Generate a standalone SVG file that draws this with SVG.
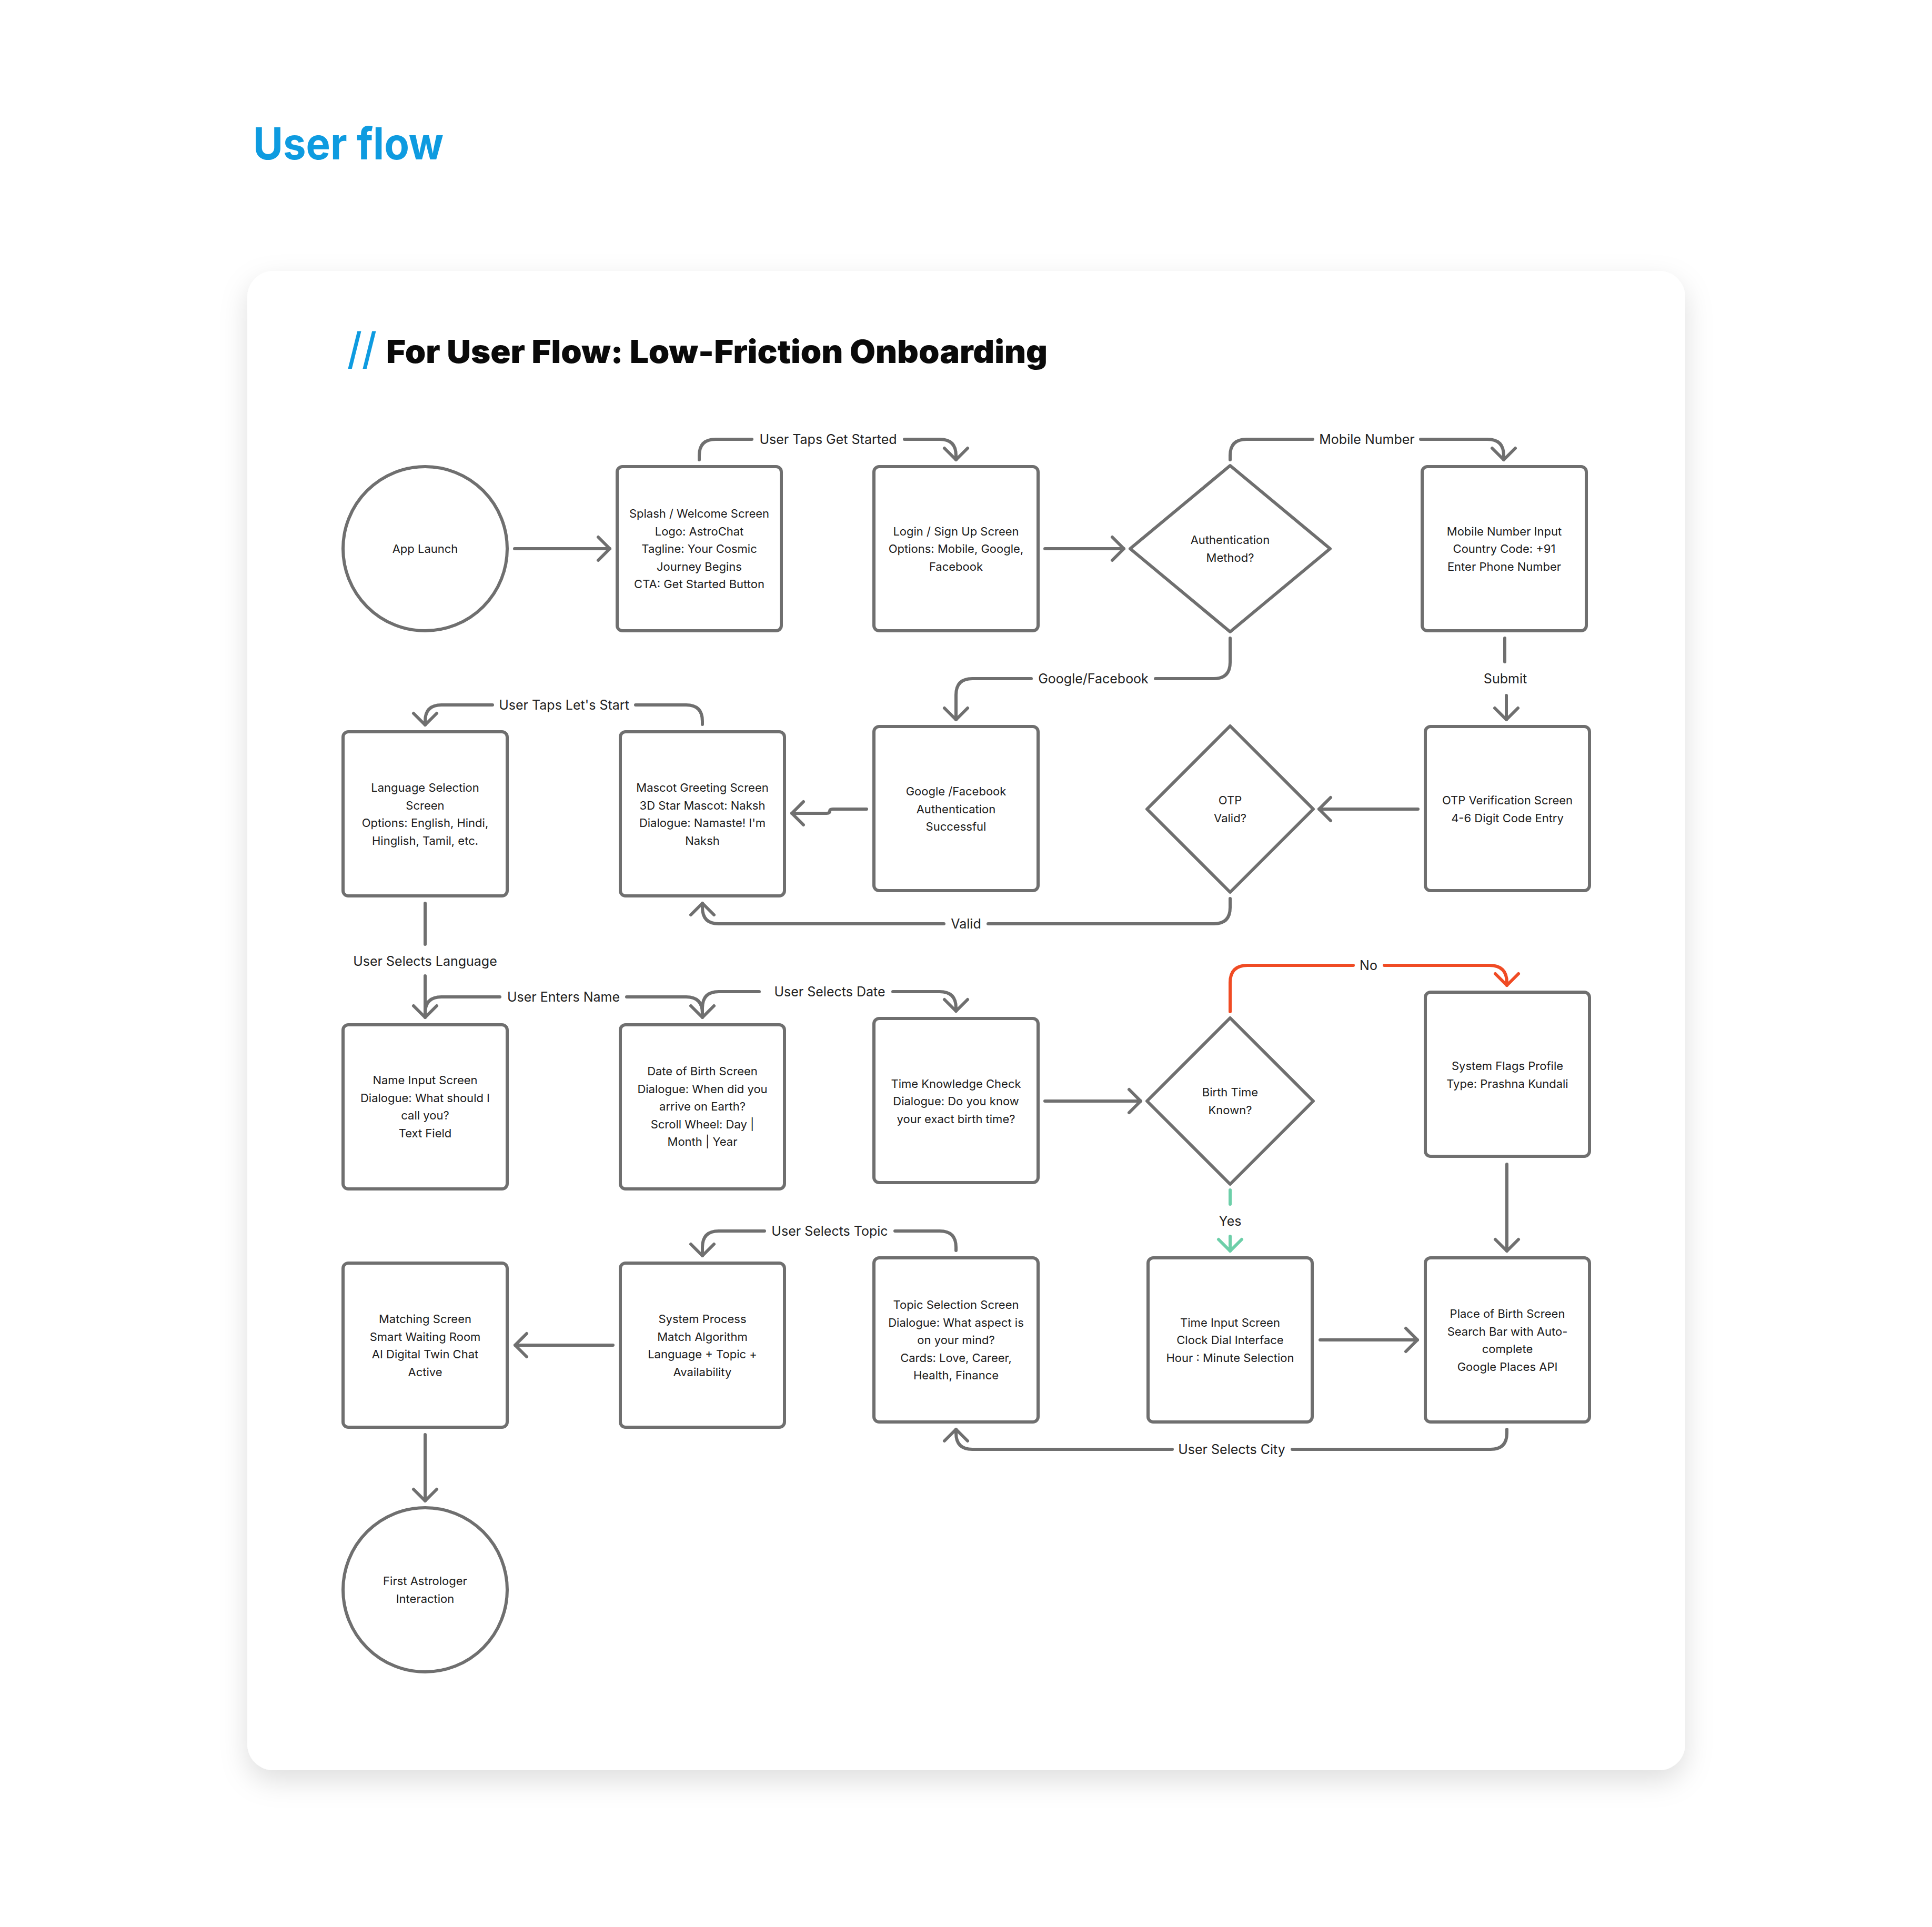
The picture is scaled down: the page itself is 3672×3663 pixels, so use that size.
<svg xmlns="http://www.w3.org/2000/svg" width="3672" height="3663" viewBox="0 0 3672 3663">
<defs>
<filter id="sh" x="-10%" y="-10%" width="120%" height="120%">
<feDropShadow dx="0" dy="20" stdDeviation="26" flood-color="#000" flood-opacity="0.13"/>
</filter>
<marker id="ag" markerUnits="userSpaceOnUse" markerWidth="60" markerHeight="60" viewBox="-30 -30 60 60" refX="0" refY="0" orient="auto" overflow="visible">
<path d="M-22,-22 L0,0 L-22,22" fill="none" stroke="#6f6f6f" stroke-width="6" stroke-linecap="round" stroke-linejoin="round"/>
</marker>
<marker id="ar" markerUnits="userSpaceOnUse" markerWidth="60" markerHeight="60" viewBox="-30 -30 60 60" refX="0" refY="0" orient="auto" overflow="visible">
<path d="M-22,-22 L0,0 L-22,22" fill="none" stroke="#f04b24" stroke-width="6" stroke-linecap="round" stroke-linejoin="round"/>
</marker>
<marker id="an" markerUnits="userSpaceOnUse" markerWidth="60" markerHeight="60" viewBox="-30 -30 60 60" refX="0" refY="0" orient="auto" overflow="visible">
<path d="M-22,-22 L0,0 L-22,22" fill="none" stroke="#6dcfa9" stroke-width="6" stroke-linecap="round" stroke-linejoin="round"/>
</marker>
</defs>
<style>
.box{fill:#fff;stroke:#6f6f6f;stroke-width:6;stroke-linejoin:round}
.nt{font-family:Inter,"Noto Sans","Liberation Sans",sans-serif;font-size:22px;fill:#1c1c1c;text-anchor:middle}
.c{fill:none;stroke:#6f6f6f;stroke-width:6;stroke-linecap:round;stroke-linejoin:round}
.ca{marker-end:url(#ag)}
.red{stroke:#f04b24}
.grn{stroke:#6dcfa9}
.lb{font-family:Inter,"Noto Sans","Liberation Sans",sans-serif;font-size:25px;fill:#222;text-anchor:middle}
</style>
<rect width="3672" height="3663" fill="#fff"/>
<text x="481" y="303" font-family="Inter,'Noto Sans','Liberation Sans',sans-serif" font-size="84" font-weight="700" fill="#0e9be0" textLength="362" lengthAdjust="spacingAndGlyphs">User flow</text>
<rect x="470" y="515" width="2733" height="2850" rx="50" fill="#fff" filter="url(#sh)"/>
<text x="660" y="692" font-family="Inter,'Noto Sans','Liberation Sans',sans-serif" font-size="82" font-weight="500" fill="#0e9be0" textLength="56" lengthAdjust="spacingAndGlyphs">//</text>
<text x="734" y="690" font-family="Inter,'Noto Sans','Liberation Sans',sans-serif" font-size="61" font-weight="900" fill="#0a0a0a" textLength="1257" lengthAdjust="spacingAndGlyphs">For User Flow: Low-Friction Onboarding</text>

<g id="connectors">
<path class="c ca" d="M978,1043 H1159"/>
<path class="c" d="M1329,874 V866 Q1329,835 1360,835 H1429"/>
<path class="c ca" d="M1719,835 H1786 Q1817,835 1817,866 V874"/>
<text class="lb" x="1574" y="844">User Taps Get Started</text>
<path class="c ca" d="M1986,1043 H2136"/>
<path class="c" d="M2338,874 V866 Q2338,835 2369,835 H2495"/>
<path class="c ca" d="M2700,835 H2827 Q2858,835 2858,866 V874"/>
<text class="lb" x="2598" y="844">Mobile Number</text>
<path class="c" d="M2338,1213 V1259 Q2338,1290 2307,1290 H2196"/>
<path class="c ca" d="M1960,1290 H1848 Q1817,1290 1817,1321 V1368"/>
<text class="lb" x="2078" y="1299">Google/Facebook</text>
<path class="c" d="M2860,1213 V1258"/>
<path class="c ca" d="M2863,1322 V1368"/>
<text class="lb" x="2861" y="1299">Submit</text>
<path class="c ca" d="M2695,1538 H2507"/>
<path class="c ca" d="M1647,1538 H1583 Q1577,1538 1577,1542 Q1577,1546 1571,1546 H1505"/>
<path class="c" d="M2338,1708 V1725 Q2338,1756 2307,1756 H1878"/>
<path class="c ca" d="M1794,1756 H1366 Q1335,1756 1335,1725 V1717"/>
<text class="lb" x="1836" y="1765">Valid</text>
<path class="c" d="M1335,1377 V1371 Q1335,1340 1304,1340 H1208"/>
<path class="c ca" d="M936,1340 H839 Q808,1340 808,1371 V1378"/>
<text class="lb" x="1072" y="1349">User Taps Let's Start</text>
<path class="c" d="M808,1717 V1795"/>
<path class="c ca" d="M808,1855 V1934"/>
<text class="lb" x="808" y="1836">User Selects Language</text>
<path class="c" d="M808,1930 V1926 Q808,1895 839,1895 H950"/>
<path class="c ca" d="M1191,1895 H1304 Q1335,1895 1335,1926 V1934"/>
<text class="lb" x="1071" y="1904">User Enters Name</text>
<path class="c" d="M1335,1930 V1916 Q1335,1885 1366,1885 H1443"/>
<path class="c ca" d="M1697,1885 H1786 Q1817,1885 1817,1916 V1922"/>
<text class="lb" x="1577" y="1894">User Selects Date</text>
<path class="c ca" d="M1986,2093 H2168"/>
<path class="c red" d="M2338,1923 V1868 Q2338,1835 2371,1835 H2572"/>
<path class="c red" marker-end="url(#ar)" d="M2631,1835 H2831 Q2864,1835 2864,1868 V1873"/>
<text class="lb" x="2601" y="1844">No</text>
<path class="c grn" d="M2338,2262 V2289"/>
<path class="c grn" marker-end="url(#an)" d="M2338,2350 V2378"/>
<text class="lb" x="2338" y="2330">Yes</text>
<path class="c ca" d="M2864,2213 V2378"/>
<path class="c ca" d="M2509,2547 H2694"/>
<path class="c" d="M2864,2717 V2724 Q2864,2755 2833,2755 H2456"/>
<path class="c ca" d="M2228,2755 H1848 Q1817,2755 1817,2724 V2717"/>
<text class="lb" x="2341" y="2764">User Selects City</text>
<path class="c" d="M1817,2377 V2371 Q1817,2340 1786,2340 H1701"/>
<path class="c ca" d="M1453,2340 H1366 Q1335,2340 1335,2371 V2387"/>
<text class="lb" x="1577" y="2349">User Selects Topic</text>
<path class="c ca" d="M1165,2557 H979"/>
<path class="c ca" d="M808,2727 V2853"/>
</g>

<g id="app-launch"><circle class="box" cx="808" cy="1043" r="156"/><text class="nt" x="808" y="1051">App Launch</text></g>
<g id="splash"><rect class="box" x="1173" y="887" width="312" height="312" rx="10"/>
<text class="nt" x="1329"><tspan x="1329" y="984">Splash / Welcome Screen</tspan><tspan x="1329" y="1017.5">Logo: AstroChat</tspan><tspan x="1329" y="1051">Tagline: Your Cosmic</tspan><tspan x="1329" y="1084.5">Journey Begins</tspan><tspan x="1329" y="1118">CTA: Get Started Button</tspan></text></g>
<g id="login"><rect class="box" x="1661" y="887" width="312" height="312" rx="10"/>
<text class="nt"><tspan x="1817" y="1017.5">Login / Sign Up Screen</tspan><tspan x="1817" y="1051">Options: Mobile, Google,</tspan><tspan x="1817" y="1084.5">Facebook</tspan></text></g>
<g id="auth-method"><path class="box" d="M2338,885 L2528,1043 L2338,1201 L2148,1043 Z"/>
<text class="nt"><tspan x="2338" y="1034">Authentication</tspan><tspan x="2338" y="1067.5">Method?</tspan></text></g>
<g id="mobile-input"><rect class="box" x="2703" y="887" width="312" height="312" rx="10"/>
<text class="nt"><tspan x="2859" y="1017.5">Mobile Number Input</tspan><tspan x="2859" y="1051">Country Code: +91</tspan><tspan x="2859" y="1084.5">Enter Phone Number</tspan></text></g>

<g id="language"><rect class="box" x="652" y="1391" width="312" height="312" rx="10"/>
<text class="nt"><tspan x="808" y="1505">Language Selection</tspan><tspan x="808" y="1538.5">Screen</tspan><tspan x="808" y="1572">Options: English, Hindi,</tspan><tspan x="808" y="1605.5">Hinglish, Tamil, etc.</tspan></text></g>
<g id="mascot"><rect class="box" x="1179" y="1391" width="312" height="312" rx="10"/>
<text class="nt"><tspan x="1335" y="1505">Mascot Greeting Screen</tspan><tspan x="1335" y="1538.5">3D Star Mascot: Naksh</tspan><tspan x="1335" y="1572">Dialogue: Namaste! I'm</tspan><tspan x="1335" y="1605.5">Naksh</tspan></text></g>
<g id="google-auth"><rect class="box" x="1661" y="1381" width="312" height="312" rx="10"/>
<text class="nt"><tspan x="1817" y="1512">Google /Facebook</tspan><tspan x="1817" y="1545.5">Authentication</tspan><tspan x="1817" y="1579">Successful</tspan></text></g>
<g id="otp-valid"><path class="box" d="M2338,1380 L2496,1538 L2338,1696 L2180,1538 Z"/>
<text class="nt"><tspan x="2338" y="1529">OTP</tspan><tspan x="2338" y="1562.5">Valid?</tspan></text></g>
<g id="otp-verification"><rect class="box" x="2709" y="1381" width="312" height="312" rx="10"/>
<text class="nt"><tspan x="2865" y="1529">OTP Verification Screen</tspan><tspan x="2865" y="1562.5">4-6 Digit Code Entry</tspan></text></g>

<g id="name-input"><rect class="box" x="652" y="1948" width="312" height="312" rx="10"/>
<text class="nt"><tspan x="808" y="2061">Name Input Screen</tspan><tspan x="808" y="2094.5">Dialogue: What should I</tspan><tspan x="808" y="2128">call you?</tspan><tspan x="808" y="2161.5">Text Field</tspan></text></g>
<g id="dob"><rect class="box" x="1179" y="1948" width="312" height="312" rx="10"/>
<text class="nt"><tspan x="1335" y="2044">Date of Birth Screen</tspan><tspan x="1335" y="2077.5">Dialogue: When did you</tspan><tspan x="1335" y="2111">arrive on Earth?</tspan><tspan x="1335" y="2144.5">Scroll Wheel: Day |</tspan><tspan x="1335" y="2178">Month | Year</tspan></text></g>
<g id="time-knowledge"><rect class="box" x="1661" y="1936" width="312" height="312" rx="10"/>
<text class="nt"><tspan x="1817" y="2067.5">Time Knowledge Check</tspan><tspan x="1817" y="2101">Dialogue: Do you know</tspan><tspan x="1817" y="2134.5">your exact birth time?</tspan></text></g>
<g id="birth-time"><path class="box" d="M2338,1935 L2496,2093 L2338,2251 L2180,2093 Z"/>
<text class="nt"><tspan x="2338" y="2084">Birth Time</tspan><tspan x="2338" y="2117.5">Known?</tspan></text></g>
<g id="system-flags"><rect class="box" x="2709" y="1886" width="312" height="312" rx="10"/>
<text class="nt"><tspan x="2865" y="2034">System Flags Profile</tspan><tspan x="2865" y="2067.5">Type: Prashna Kundali</tspan></text></g>

<g id="matching"><rect class="box" x="652" y="2401" width="312" height="312" rx="10"/>
<text class="nt"><tspan x="808" y="2515">Matching Screen</tspan><tspan x="808" y="2548.5">Smart Waiting Room</tspan><tspan x="808" y="2582">AI Digital Twin Chat</tspan><tspan x="808" y="2615.5">Active</tspan></text></g>
<g id="system-process"><rect class="box" x="1179" y="2401" width="312" height="312" rx="10"/>
<text class="nt"><tspan x="1335" y="2515">System Process</tspan><tspan x="1335" y="2548.5">Match Algorithm</tspan><tspan x="1335" y="2582">Language + Topic +</tspan><tspan x="1335" y="2615.5">Availability</tspan></text></g>
<g id="topic"><rect class="box" x="1661" y="2391" width="312" height="312" rx="10"/>
<text class="nt"><tspan x="1817" y="2488">Topic Selection Screen</tspan><tspan x="1817" y="2521.5">Dialogue: What aspect is</tspan><tspan x="1817" y="2555">on your mind?</tspan><tspan x="1817" y="2588.5">Cards: Love, Career,</tspan><tspan x="1817" y="2622">Health, Finance</tspan></text></g>
<g id="time-input"><rect class="box" x="2182" y="2391" width="312" height="312" rx="10"/>
<text class="nt"><tspan x="2338" y="2521.5">Time Input Screen</tspan><tspan x="2338" y="2555">Clock Dial Interface</tspan><tspan x="2338" y="2588.5">Hour : Minute Selection</tspan></text></g>
<g id="place-of-birth"><rect class="box" x="2709" y="2391" width="312" height="312" rx="10"/>
<text class="nt"><tspan x="2865" y="2505">Place of Birth Screen</tspan><tspan x="2865" y="2538.5">Search Bar with Auto-</tspan><tspan x="2865" y="2572">complete</tspan><tspan x="2865" y="2605.5">Google Places API</tspan></text></g>

<g id="first-astrologer"><circle class="box" cx="808" cy="3022" r="156"/>
<text class="nt"><tspan x="808" y="3013">First Astrologer</tspan><tspan x="808" y="3046.5">Interaction</tspan></text></g>
</svg>
